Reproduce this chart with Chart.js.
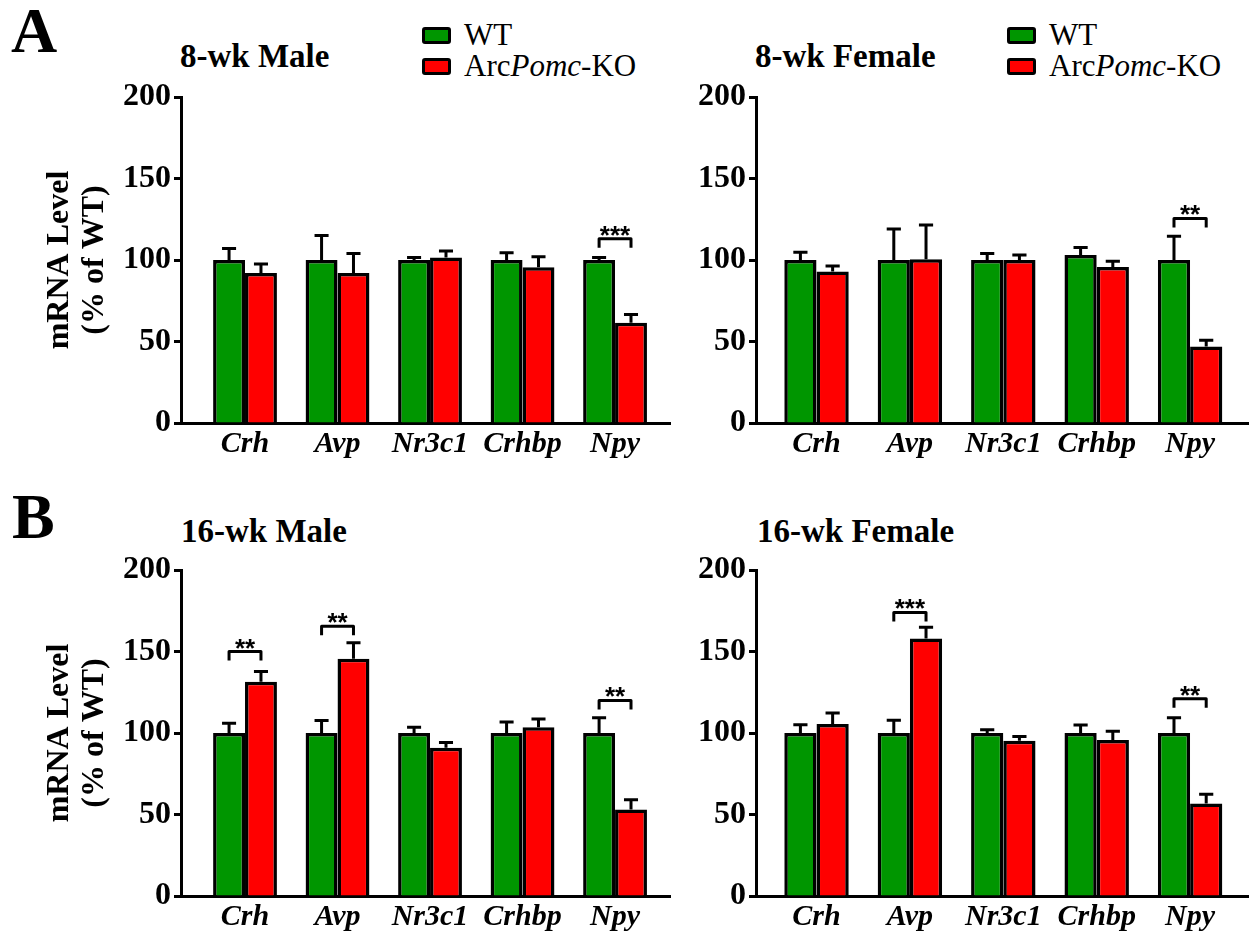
<!DOCTYPE html>
<html>
<head>
<meta charset="utf-8">
<script src="https://cdn.jsdelivr.net/npm/chart.js@4.4.1/dist/chart.umd.min.js"></script>
<style>
  body { margin: 0; width: 1249px; height: 932px; overflow: hidden; position: relative; background: #fff;
         font-family: 'Liberation Serif', 'Times New Roman', serif; color: #000; }
  canvas { position: absolute; }
  .txt { position: absolute; white-space: nowrap; line-height: 1; }
  .letter { font-size: 64px; font-weight: bold; }
  .ptitle { font-size: 33px; font-weight: bold; }
  .leg { font-size: 31px; }
  .box { position: absolute; width: 23px; height: 11px; border: 3.5px solid #000; border-radius: 3px; }
</style>
</head>
<body>

<div class="txt letter" style="left:11px; top:-1px;">A</div>
<div class="txt letter" style="left:12px; top:485px;">B</div>

<div class="txt ptitle" style="left:180px; top:40px;">8-wk Male</div>
<div class="txt ptitle" style="left:755px; top:40px;">8-wk Female</div>
<div class="txt ptitle" style="left:181px; top:515px;">16-wk Male</div>
<div class="txt ptitle" style="left:757px; top:515px;">16-wk Female</div>

<div class="box" style="left:422px; top:27px; background:#009600;"></div>
<div class="txt leg" style="left:464px; top:19px;">WT</div>
<div class="box" style="left:422px; top:58px; background:#ff0000;"></div>
<div class="txt leg" style="left:464px; top:50px;">Arc<i>Pomc</i>-KO</div>

<div class="box" style="left:1007px; top:27px; background:#009600;"></div>
<div class="txt leg" style="left:1049px; top:19px;">WT</div>
<div class="box" style="left:1007px; top:58px; background:#ff0000;"></div>
<div class="txt leg" style="left:1049px; top:50px;">Arc<i>Pomc</i>-KO</div>

<canvas id="male8" width="680" height="390" style="left:0px; top:70px;"></canvas>
<canvas id="female8" width="569" height="390" style="left:680px; top:70px;"></canvas>
<canvas id="male16" width="680" height="390" style="left:0px; top:543px;"></canvas>
<canvas id="female16" width="569" height="390" style="left:680px; top:543px;"></canvas>

<script>
const genes = ['Crh', 'Avp', 'Nr3c1', 'Crhbp', 'Npy'];
const yTicks = [0, 50, 100, 150, 200];

// 8-wk male
const male8Wt = [100, 100, 100, 100, 100];
const male8WtErr = [7, 15, 1.5, 4.5, 1.5];
const male8Ko = [92, 92, 101.5, 95.5, 61.5];
const male8KoErr = [5.5, 12, 4, 6.5, 5];
const male8SigIdx = [4];
const male8SigText = ['***'];
const male8SigLevel = [113];

// 8-wk female
const female8Wt = [100, 100, 100, 103, 100];
const female8WtErr = [4.7, 19, 4, 4.7, 14.5];
const female8Ko = [93, 100.5, 100, 95.7, 47];
const female8KoErr = [3.3, 21, 3, 3.5, 3.7];
const female8SigIdx = [4];
const female8SigText = ['**'];
const female8SigLevel = [125.5];

// 16-wk male
const male16Wt = [100, 100, 100, 100, 100];
const male16WtErr = [6, 7.6, 3.5, 6.8, 9.4];
const male16Ko = [131.5, 145.5, 91, 103.5, 53];
const male16KoErr = [6.3, 9.8, 3.1, 5.1, 6.1];
const male16SigIdx = [0, 1, 4];
const male16SigText = ['**', '**', '**'];
const male16SigLevel = [150, 165.5, 120];

// 16-wk female
const female16Wt = [100, 100, 100, 100, 100];
const female16WtErr = [5.1, 7.8, 2, 4.9, 9.4];
const female16Ko = [105.5, 158, 95.3, 95.7, 56.7];
const female16KoErr = [6.7, 6.9, 2.5, 5.3, 5.7];
const female16SigIdx = [1, 4];
const female16SigText = ['***', '**'];
const female16SigLevel = [174, 121];

const FONT = "'Liberation Serif', 'Times New Roman', serif";
const GREEN = '#009600';
const RED = '#ff0000';

// error bars (upper only) + significance brackets
const extras = {
  id: 'extras',
  afterDatasetsDraw(chart, args, opts) {
    const ctx = chart.ctx;
    const y = chart.scales.y;
    ctx.save();
    ctx.strokeStyle = '#000';
    ctx.lineWidth = 3;
    chart.data.datasets.forEach((ds, di) => {
      const meta = chart.getDatasetMeta(di);
      meta.data.forEach((bar, i) => {
        const top = y.getPixelForValue(ds.data[i].y + ds.errors[i]);
        const half = bar.width * 0.22;
        ctx.beginPath();
        ctx.moveTo(bar.x, bar.y);
        ctx.lineTo(bar.x, top);
        ctx.moveTo(bar.x - half, top);
        ctx.lineTo(bar.x + half, top);
        ctx.stroke();
      });
    });

    const wtBars = chart.getDatasetMeta(0).data;
    const koBars = chart.getDatasetMeta(1).data;
    ctx.fillStyle = '#000';
    ctx.font = "bold 26px 'Liberation Sans', Arial, sans-serif";
    ctx.textAlign = 'center';
    ctx.textBaseline = 'alphabetic';
    ctx.lineJoin = 'round';
    opts.idx.forEach((gi, k) => {
      const x1 = wtBars[gi].x;
      const x2 = koBars[gi].x;
      const yTop = y.getPixelForValue(opts.level[k]);
      ctx.beginPath();
      ctx.moveTo(x1, yTop + 9);
      ctx.lineTo(x1, yTop);
      ctx.lineTo(x2, yTop);
      ctx.lineTo(x2, yTop + 9);
      ctx.stroke();
      ctx.fillText(opts.text[k], (x1 + x2) / 2, yTop + 5);
    });
    ctx.restore();
  }
};

function makeChart(id, wt, wtErr, ko, koErr, sigIdx, sigText, sigLevel, cfg) {
  return new Chart(document.getElementById(id), {
    type: 'bar',
    data: {
      datasets: [
        {
          label: 'WT',
          data: genes.map((g, i) => ({ x: i, y: wt[i] })),
          errors: wtErr,
          backgroundColor: GREEN,
          borderColor: '#000',
          borderWidth: 3.5
        },
        {
          label: 'ArcPomc-KO',
          data: genes.map((g, i) => ({ x: i, y: ko[i] })),
          errors: koErr,
          backgroundColor: RED,
          borderColor: '#000',
          borderWidth: 3.5
        }
      ]
    },
    options: {
      responsive: false,
      animation: false,
      events: [],
      layout: { padding: { top: 27, right: cfg.padRight, left: 0, bottom: 0 } },
      datasets: { bar: { categoryPercentage: 0.69, barPercentage: 1 } },
      plugins: {
        legend: { display: false },
        tooltip: { enabled: false },
        extras: { idx: sigIdx, text: sigText, level: sigLevel }
      },
      scales: {
        x: {
          type: 'linear',
          offset: false,
          min: cfg.xMin,
          max: cfg.xMax,
          afterBuildTicks: s => { s.ticks = genes.map((g, i) => ({ value: i })); },
          afterFit: s => { s.height = 37; },
          grid: { display: false, drawTicks: false, offset: false },
          border: { display: true, color: '#000', width: 3 },
          ticks: {
            autoSkip: false,
            maxRotation: 0,
            padding: 3,
            color: '#000',
            font: { family: FONT, size: 30, style: 'italic', weight: 'bold' },
            callback: v => genes[v]
          }
        },
        y: {
          min: 0,
          max: 200,
          afterBuildTicks: s => { s.ticks = yTicks.map(v => ({ value: v })); },
          afterFit: s => { s.width = cfg.yWidth; },
          grid: { display: true, drawOnChartArea: false, drawTicks: true, tickLength: 7, tickWidth: 3, tickColor: '#000' },
          border: { display: true, color: '#000', width: 3 },
          ticks: { padding: 3, color: '#000', font: { family: FONT, size: 32, weight: 'bold' } },
          title: {
            display: cfg.yTitle,
            text: ['mRNA Level', '(% of WT)'],
            color: '#000',
            font: { family: FONT, size: 32, weight: 'bold', lineHeight: 1.07 },
            padding: { top: 43, bottom: 0 }
          }
        }
      }
    },
    plugins: [extras]
  });
}

const leftCfg = { xMin: -0.692, xMax: 4.594, yWidth: 181, padRight: 10, yTitle: true };
const rightCfg = { xMin: -0.648, xMax: 4.62, yWidth: 76, padRight: 1, yTitle: false };

makeChart('male8', male8Wt, male8WtErr, male8Ko, male8KoErr, male8SigIdx, male8SigText, male8SigLevel, leftCfg);
makeChart('female8', female8Wt, female8WtErr, female8Ko, female8KoErr, female8SigIdx, female8SigText, female8SigLevel, rightCfg);
makeChart('male16', male16Wt, male16WtErr, male16Ko, male16KoErr, male16SigIdx, male16SigText, male16SigLevel, leftCfg);
makeChart('female16', female16Wt, female16WtErr, female16Ko, female16KoErr, female16SigIdx, female16SigText, female16SigLevel, rightCfg);
</script>
</body>
</html>
